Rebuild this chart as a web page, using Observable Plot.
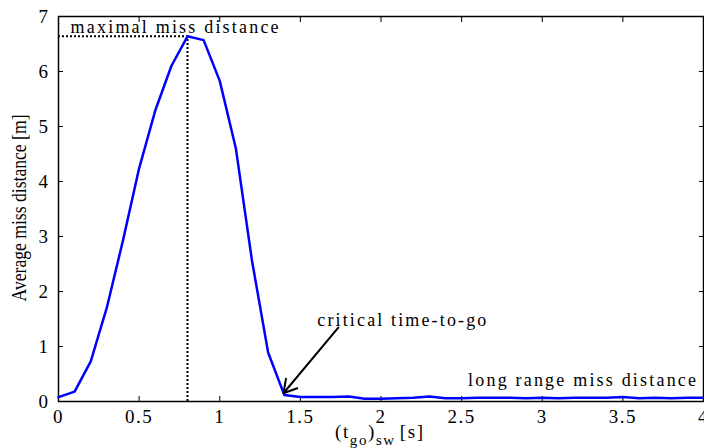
<!DOCTYPE html>
<html>
<head>
<meta charset="utf-8">
<script src="https://cdn.jsdelivr.net/npm/d3@7"></script>
<script src="https://cdn.jsdelivr.net/npm/@observablehq/plot@0.6"></script>
<style>
  html, body { margin: 0; padding: 0; background: #fff; }
  #chart svg { display: block; }
  #chart svg text { font-family: "Liberation Serif", "Times New Roman", serif !important; }
</style>
</head>
<body>
<div id="chart"></div>
<script>
const tgo = [0,0.1,0.2,0.3,0.4,0.5,0.6,0.7,0.8,0.9,1.0,1.1,1.2,1.3,1.4,1.5,1.6,1.7,1.8,1.9,2.0,2.1,2.2,2.3,2.4,2.5,2.6,2.7,2.8,2.9,3.0,3.1,3.2,3.3,3.4,3.5,3.6,3.7,3.8,3.9,4.0];
const missDist = [0.08,0.18,0.73,1.71,2.93,4.24,5.29,6.1,6.64,6.57,5.83,4.6,2.56,0.89,0.12,0.08,0.08,0.08,0.09,0.05,0.05,0.06,0.07,0.09,0.06,0.06,0.07,0.07,0.07,0.06,0.07,0.06,0.07,0.07,0.07,0.08,0.06,0.07,0.06,0.07,0.07];
const xTicks = [0,0.5,1,1.5,2,2.5,3,3.5,4];
const yTicks = [0,1,2,3,4,5,6,7];
const peakX = 0.8, peakY = 6.64;
const notes = [
  {label: "maximal miss distance", x: 0.075, y: 6.7},
  {label: "critical time-to-go", x: 1.605, y: 1.37},
  {label: "long range miss distance", x: 2.54, y: 0.28}
];
const arrowSpec = [{x1: 1.735, y1: 1.345, x2: 1.395, y2: 0.15}];

const data = tgo.map((t, i) => ({t, m: missDist[i]}));

const plot = Plot.plot({
  width: 704,
  height: 448,
  marginLeft: 58,
  marginRight: 1,
  marginTop: 16,
  marginBottom: 47,
  style: {fontFamily: "Liberation Serif, serif", fontSize: "19px", color: "#000", background: "#fff"},
  x: {domain: [0, 4]},
  y: {domain: [0, 7]},
  marks: [
    Plot.frame({stroke: "#000", strokeWidth: 1.5}),
    Plot.axisX({ticks: xTicks, tickSize: -5, tickPadding: 13, label: null, tickFormat: d => String(d), fontSize: 19}),
    Plot.axisX({anchor: "top", ticks: xTicks, tickSize: -5, label: null, text: null}),
    Plot.axisY({ticks: yTicks, tickSize: -5, tickPadding: 14, label: null, tickFormat: d => String(d), fontSize: 19}),
    Plot.axisY({anchor: "right", ticks: yTicks, tickSize: -5, label: null, text: null}),
    Plot.ruleY([peakY], {x1: 0, x2: peakX, stroke: "#000", strokeWidth: 2, strokeDasharray: "2,2"}),
    Plot.ruleX([peakX], {y1: 0, y2: peakY, stroke: "#000", strokeWidth: 2, strokeDasharray: "2,2"}),
    Plot.line(data, {x: "t", y: "m", stroke: "#0000ff", strokeWidth: 2.5}),
    Plot.text(notes, {x: "x", y: "y", text: "label", textAnchor: "start", lineAnchor: "bottom", fontSize: 18, fill: "#000"}),
    Plot.arrow(arrowSpec, {x1: "x1", y1: "y1", x2: "x2", y2: "y2", stroke: "#000", strokeWidth: 2, headLength: 11})
  ]
});

document.getElementById("chart").appendChild(plot);

const svg = d3.select(plot);
svg.selectAll("text").attr("font-family", "Liberation Serif, serif");
svg.selectAll("g[aria-label='x-axis tick label'], g[aria-label='y-axis tick label']")
  .attr("font-size", 19).style("letter-spacing", "1.5px");

// stretch annotation texts to the reference widths
const widths = {"maximal miss distance": 208, "critical time-to-go": 169, "long range miss distance": 228};
svg.selectAll("text").each(function(){
  const w = widths[this.textContent];
  if (w) d3.select(this).attr("textLength", w).attr("lengthAdjust", "spacing");
});

// x axis label with subscripts
const xl = svg.append("text")
  .attr("x", 335).attr("y", 438)
  .attr("text-anchor", "start")
  .attr("font-family", "Liberation Serif, serif")
  .attr("font-size", 19)
  .attr("fill", "#000");
xl.append("tspan").text("(t");
xl.append("tspan").attr("font-size", 15).attr("dy", 7).text("go");
xl.append("tspan").attr("dy", -7).text(")");
xl.append("tspan").attr("font-size", 15).attr("dy", 7).text("sw");
xl.append("tspan").attr("dy", -7).attr("dx", 4).text("[s]");
xl.attr("textLength", 88).attr("lengthAdjust", "spacing");

// y axis label (condensed)
svg.append("text")
  .attr("transform", "translate(26,208) rotate(-90)")
  .attr("text-anchor", "middle")
  .attr("font-family", "Liberation Serif, serif")
  .attr("font-size", 20)
  .attr("fill", "#000")
  .attr("textLength", 187)
  .attr("lengthAdjust", "spacingAndGlyphs")
  .text("Average miss distance [m]");
</script>
</body>
</html>
